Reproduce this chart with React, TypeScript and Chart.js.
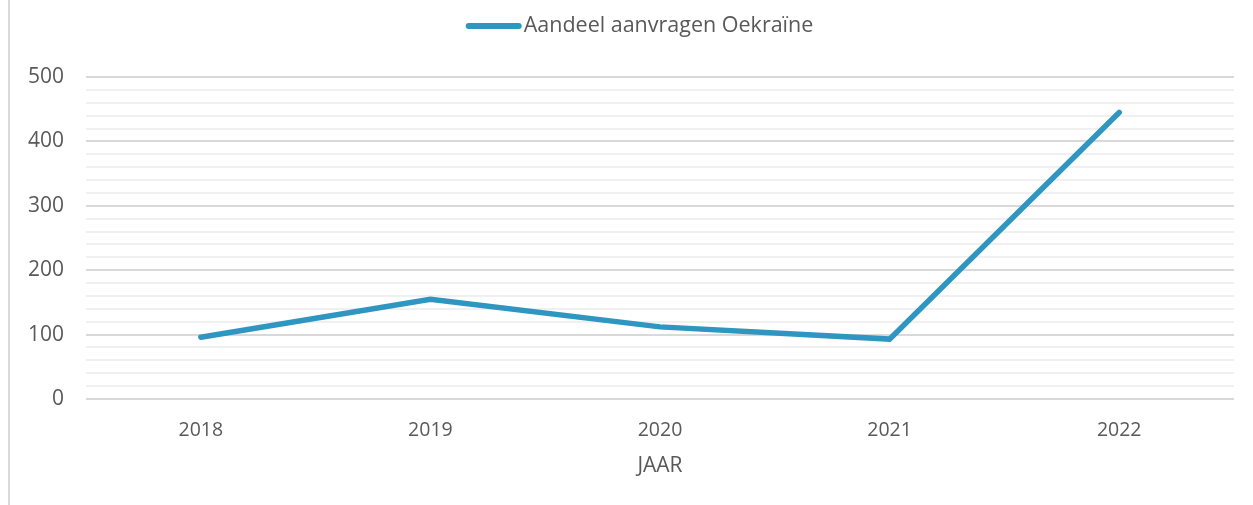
import React, { useEffect, useRef } from 'react';
import { Chart, registerables } from 'chart.js';

Chart.register(...registerables);

const categories = ['2018', '2019', '2020', '2021', '2022'];
const seriesLabel = 'Aandeel aanvragen Oekraïne';
const values = [96, 155, 112, 93, 445];
const yMin = 0;
const yMax = 500;
const yMinorStep = 20;
const yMajorStep = 100;
const xTitle = 'JAAR';

const LINE_COLOR = '#2e96c0';
const TEXT_COLOR = '#595959';
const FONT = '"Open Sans", sans-serif';

const topLegend = {
  id: 'topLegend',
  afterDraw(chart: any) {
    const ctx = chart.ctx;
    ctx.save();
    ctx.font = `21.5px ${FONT}`;
    const tw = ctx.measureText(seriesLabel).width;
    const lineLen = 56;
    const gap = 2;
    const total = lineLen + gap + tw;
    const cx = chart.width / 2 + 8;
    const x0 = cx - total / 2;
    const y = 26;
    ctx.strokeStyle = LINE_COLOR;
    ctx.lineWidth = 6;
    ctx.lineCap = 'round';
    ctx.beginPath();
    ctx.moveTo(x0 + 3, y);
    ctx.lineTo(x0 + lineLen - 3, y);
    ctx.stroke();
    ctx.fillStyle = TEXT_COLOR;
    ctx.textBaseline = 'middle';
    ctx.textAlign = 'left';
    ctx.fillText(seriesLabel, x0 + lineLen + gap, y);
    ctx.restore();
  },
};

export default function App() {
  const ref = useRef<HTMLCanvasElement | null>(null);

  useEffect(() => {
    if (!ref.current) return;
    const chart = new Chart(ref.current, {
      type: 'line',
      data: {
        labels: categories,
        datasets: [
          {
            label: seriesLabel,
            data: values,
            borderColor: LINE_COLOR,
            backgroundColor: LINE_COLOR,
            borderWidth: 5.5,
            borderCapStyle: 'round',
            borderJoinStyle: 'miter',
            pointRadius: 0,
            tension: 0,
            fill: false,
          },
        ],
      },
      plugins: [topLegend],
      options: {
        animation: false,
        responsive: false,
        maintainAspectRatio: false,
        layout: { padding: { top: 77, right: 19, bottom: 24, left: 0 } },
        plugins: {
          tooltip: { enabled: false },
          legend: { display: false },
        },
        scales: {
          x: {
            type: 'category',
            offset: true,
            grid: { display: false },
            border: { display: false },
            ticks: {
              color: TEXT_COLOR,
              font: { family: FONT, size: 19.5 },
              padding: 12,
              maxRotation: 0,
            },
            title: {
              display: true,
              text: xTitle,
              color: TEXT_COLOR,
              font: { family: FONT, size: 21 },
              padding: { top: 4, bottom: 2 },
            },
            afterFit: (s: any) => {
              s.height = 82;
            },
          },
          y: {
            min: yMin,
            max: yMax,
            grid: {
              color: (ctx: any) =>
                ctx.tick && ctx.tick.value % yMajorStep === 0 ? '#d9d9d9' : '#f0f0f0',
              lineWidth: 2,
              drawTicks: false,
            },
            border: { display: false },
            ticks: {
              stepSize: yMinorStep,
              autoSkip: false,
              color: TEXT_COLOR,
              font: { family: FONT, size: 21 },
              padding: 22,
              callback: (v: any) => (Number(v) % yMajorStep === 0 ? String(v) : ''),
            },
            afterFit: (s: any) => {
              s.width = 76;
            },
          },
        },
      },
    });
    return () => chart.destroy();
  }, []);

  return (
    <div style={{ position: 'absolute', left: 0, top: 0, width: 1253, height: 505, background: '#fff' }}>
      <div style={{ position: 'absolute', left: 8, top: 0, width: 2, height: 505, background: '#d9d9d9' }} />
      <canvas
        ref={ref}
        width={1243}
        height={505}
        style={{ position: 'absolute', left: 10, top: 0, width: 1243, height: 505 }}
      />
    </div>
  );
}
